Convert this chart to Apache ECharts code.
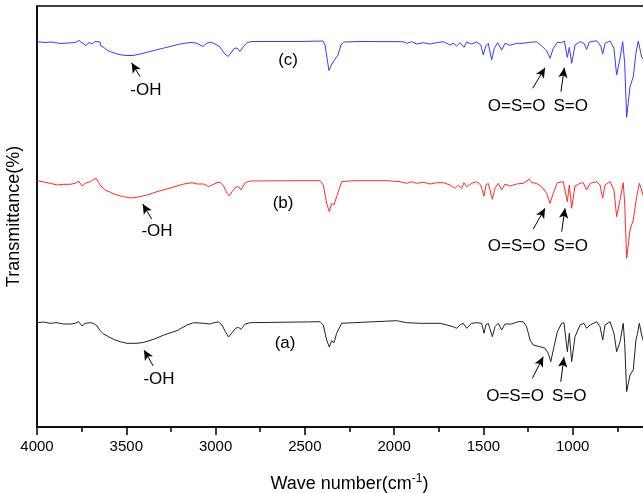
<!DOCTYPE html>
<html>
<head>
<meta charset="utf-8">
<script src="https://cdn.jsdelivr.net/npm/echarts@6/dist/echarts.min.js"></script>
<style>html,body{margin:0;padding:0;background:#fff;}#c{width:643px;height:493px;}</style>
</head>
<body>
<div id="c"></div>
<script>
// Wavenumbers (cm-1) and transmittance (arbitrary, offset) values
const waveC = [4000,3955,3916,3871,3826,3787,3765,3742,3726,3709,3692,3675,3664,3647,3642,3625,3608,3591,3574,3552,3524,3496,3462,3423,3367,3311,3255,3199,3143,3110,3087,3070,3048,3026,3003,2975,2953,2930,2914,2897,2880,2863,2846,2824,2796,2695,2527,2398,2387,2376,2365,2354,2342,2331,2314,2298,2281,2191,1949,1930,1902,1874,1837,1799,1762,1725,1687,1669,1650,1631,1609,1594,1566,1538,1515,1501,1487,1473,1454,1439,1420,1398,1379,1351,1314,1277,1239,1202,1174,1146,1127,1109,1086,1062,1047,1030,1019,1006,987,959,937,922,907,866,843,832,819,791,769,754,735,720,709,698,679,661,646,633,614,601];
const transC = [385.3,384.5,385,383.5,384,384.5,386.5,383.5,381.5,384.5,383,385.5,383.5,385,381,379.5,377,375.5,374.5,373,372,371.5,371.5,373,375.5,378,380.5,383,384.5,384,382,380.5,384,384.7,383,380,374,370.5,374,378.5,379,375.5,380,384.5,385.5,385.5,385.5,386,382,369,356.5,361,365,363.5,372,382,385,385.5,385.3,383.7,385.3,383,384.3,383,384.3,385.3,382,383.7,381,384.3,379.7,385,383,385,382,372,381,383.7,367,378.7,384.3,377,383.7,381.7,383.7,383.7,384.7,385.3,381,376.3,368.7,378.7,384.7,384.3,386,369.7,379.7,363.7,382,385.3,383.7,377.7,385,386.3,381,373,383.7,386,378.7,352,368.7,385.3,363.7,309.7,340.3,350.3,373.7,386,370,367];

const waveB = [4000,3963,3926,3888,3851,3814,3786,3767,3748,3730,3702,3683,3668,3655,3642,3618,3590,3552,3514,3478,3440,3384,3328,3254,3178,3132,3104,3066,3038,3020,2992,2973,2955,2936,2923,2908,2889,2871,2858,2834,2806,2527,2415,2397,2378,2363,2350,2337,2322,2294,2229,2042,1967,1930,1902,1874,1837,1799,1762,1725,1687,1659,1641,1622,1609,1594,1566,1538,1515,1497,1486,1473,1450,1435,1417,1398,1379,1351,1314,1277,1243,1230,1202,1174,1146,1127,1109,1086,1053,1030,1019,1006,987,959,941,922,903,866,847,832,819,791,769,754,735,717,709,698,679,661,642,627,614,601];
const transB = [246.3,245,243.7,242,242.7,242.7,243.7,246,241,243.7,245.3,247.7,248.7,244.3,241,237,234.7,232,230.3,229,229.7,232,235.3,239,243,244.3,243,243,240.3,242,244.3,244.7,241,233.7,231,235.3,239.7,240.3,237,244.3,246,246.3,246.3,242,223.7,215.3,223.7,222,230.3,245.3,246.3,246.3,245.3,243.7,245.3,243.7,244.7,243,244.3,244.3,242,238.7,242,238.7,244.3,240.3,243.7,245.3,242,231,242,243.7,227.7,238.7,243.7,237,243,241,243,243.7,247.7,244.3,243.7,240.3,233.7,223.7,233.7,244.3,245.3,225.3,242,218.7,241,243.7,244.3,237,243.7,245.3,242,228.7,242,245.3,237,210.3,227,244.3,223.7,168.7,197,207,230.3,243.7,237,228.7];

const waveA = [4000,3963,3926,3888,3851,3814,3786,3767,3748,3730,3702,3683,3664,3646,3627,3599,3571,3534,3496,3440,3402,3346,3290,3216,3160,3123,3066,3030,3011,2983,2964,2945,2927,2908,2889,2871,2858,2834,2806,2527,2415,2397,2378,2363,2350,2337,2322,2294,2229,1986,1930,1855,1743,1669,1650,1631,1613,1594,1566,1538,1510,1497,1486,1473,1450,1435,1417,1398,1379,1342,1305,1277,1258,1239,1221,1183,1155,1137,1123,1109,1086,1062,1049,1030,1019,1006,987,959,937,922,903,866,847,832,819,791,769,754,735,717,709,698,679,661,646,637,627,614,601];
const transA = [104.3,105,103.7,104.3,103,103,103.7,105.3,101,103.7,104.3,103.7,101,96.3,93,90.3,87.7,85.3,83.7,83.7,84.7,87.7,92,96.3,102,104.3,103.7,103,104.3,105,102,95.3,90,94.3,98.7,99.7,97.7,103,104.3,105,105.3,102,87,80,86.3,84.3,93.7,103.7,104.3,106.3,104.3,103.7,103.7,100.3,98.7,102,103.7,98.7,103.7,104.3,103.7,93.7,102,103.7,90.3,100.3,103.7,97,103,103,105.3,105.3,100.3,87,82,80.3,78.7,73.7,65.3,77,95.3,103.7,104.3,75.3,93.7,65.3,90.3,102,103.7,98.7,102,105.3,100.3,87,102,105.3,93.7,75.3,85.3,103.7,83.7,35.3,52,57,87,93.7,103.7,92,84];

// Tick labels on the wavenumber axis
const xTicks = [4000, 3500, 3000, 2500, 2000, 1500, 1000];

// Annotations: [text, wavenumber, transmittance]
const labelsC = [['(c)', 2594, 367], ['-OH', 3390, 337], ['O=S=O', 1314, 321], ['S=O', 1011, 321]];
const labelsB = [['(b)', 2622, 223.7], ['-OH', 3328, 195.3], ['O=S=O', 1314, 180.3], ['S=O', 1011, 180.3]];
const labelsA = [['(a)', 2611, 83.7], ['-OH', 3317, 47.7], ['O=S=O', 1323, 31], ['S=O', 1019, 31]];
// Arrows: [tail, tip]
const arrowsC = [[[3423, 350.3], [3470, 364.3]], [[1224, 338.7], [1155, 359.3]], [[1066, 335.3], [1047, 359.3]]];
const arrowsB = [[[3358, 208], [3408, 223]], [[1221, 198], [1155, 218.7]], [[1062, 195.3], [1043, 218.7]]];
const arrowsA = [[[3349, 61], [3401, 77]], [[1226, 48.7], [1165, 70.3]], [[1067, 45.3], [1049, 69.7]]];

const FONT = 'Liberation Sans, Arial, Helvetica, sans-serif';

function pairs(xs, ys) { return xs.map((x, i) => [x, ys[i]]); }
function mkSeries(name, xs, ys, color, labels, arrows) {
  return {
    name: name, type: 'line', data: pairs(xs, ys), showSymbol: false, symbol: 'none',
    lineStyle: { color: color, width: 1 }, itemStyle: { color: color },
    z: 2,
    markPoint: {
      silent: true, symbol: 'rect', symbolSize: 1,
      itemStyle: { color: 'rgba(0,0,0,0)' },
      label: { show: true, position: 'inside', color: '#000', fontSize: 17, fontFamily: FONT, formatter: p => p.name },
      data: labels.map(l => ({ name: l[0], coord: [l[1], l[2]] }))
    },
    markLine: {
      silent: true, symbol: ['none', 'arrow'], symbolSize: [7, 10],
      lineStyle: { color: '#000', width: 1, type: 'solid' },
      label: { show: false },
      data: arrows.map(a => [{ coord: a[0] }, { coord: a[1] }])
    }
  };
}

const chart = echarts.init(document.getElementById('c'), null, { renderer: 'canvas' });
chart.setOption({
  animation: false,
  backgroundColor: '#fff',
  grid: { left: 37, top: 6, bottom: 66, right: -19, containLabel: false, outerBoundsMode: 'none',
    show: true, borderColor: '#000', borderWidth: 1.5, backgroundColor: 'transparent' },
  xAxis: {
    type: 'value', inverse: true, min: 500, max: 4000, interval: 500,
    axisLine: { show: true, lineStyle: { color: '#000', width: 1.5 } },
    axisTick: { show: true, length: 8, lineStyle: { color: '#000', width: 1.5 } },
    minorTick: { show: true, splitNumber: 2, length: 5, lineStyle: { color: '#000', width: 1.5 } },
    splitLine: { show: false },
    axisLabel: { color: '#000', fontSize: 15, fontFamily: FONT, margin: 12,
      formatter: v => xTicks.indexOf(v) >= 0 ? String(v) : '' },
    name: '{a|Wave number(cm}{b|-1}{a|)}',
    nameLocation: 'middle', nameGap: 46,
    nameTextStyle: { rich: { a: { fontSize: 18, fontFamily: FONT, color: '#000' }, b: { fontSize: 12, fontFamily: FONT, color: '#000', padding: [0, 0, 10, 0] } } }
  },
  yAxis: {
    type: 'value', min: 0, max: 421,
    axisLine: { show: true, lineStyle: { color: '#000', width: 1.5 } },
    axisTick: { show: false }, axisLabel: { show: false }, splitLine: { show: false },
    name: 'Transmittance(%)', nameLocation: 'middle', nameGap: 14,
    nameTextStyle: { fontSize: 18, fontFamily: FONT, color: '#000' }
  },
  series: [
    mkSeries('a', waveA, transA, '#222222', labelsA, arrowsA),
    mkSeries('b', waveB, transB, '#ff2a2a', labelsB, arrowsB),
    mkSeries('c', waveC, transC, '#3a3aff', labelsC, arrowsC)
  ]
});
</script>
</body>
</html>
